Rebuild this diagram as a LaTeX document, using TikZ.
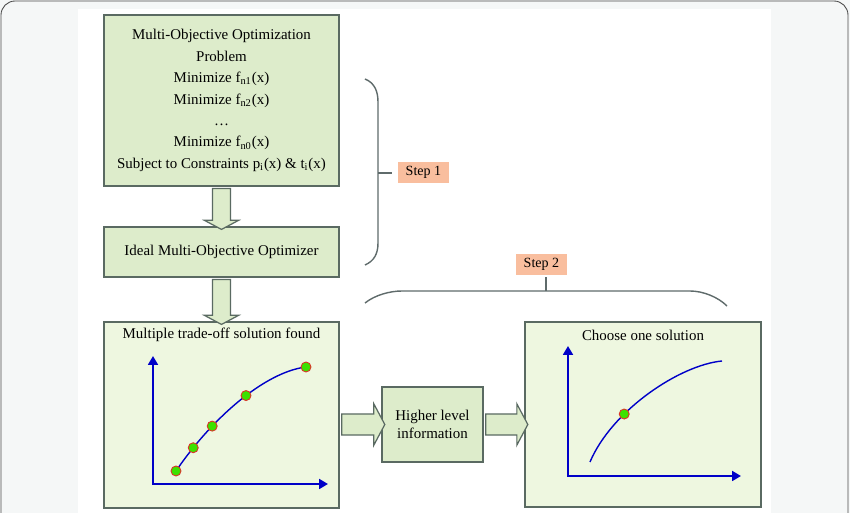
\documentclass[tikz,border=0pt]{standalone}
\usepackage{fontspec}
\setmainfont{Liberation Serif}
\usepackage{tikz}
\usetikzlibrary{shapes.arrows,arrows.meta,calc}
\definecolor{framebg}{RGB}{245,247,247}
\definecolor{boxgreen}{RGB}{221,236,203}
\definecolor{plotgreen}{RGB}{238,247,224}
\definecolor{boxline}{RGB}{90,106,98}
\definecolor{stepfill}{RGB}{249,190,158}
\definecolor{bracegray}{RGB}{95,107,107}
\definecolor{axisblue}{RGB}{0,0,200}
\definecolor{dotgreen}{RGB}{60,225,0}
\definecolor{dotred}{RGB}{220,50,40}

\begin{document}
\begin{tikzpicture}[x=0.02cm,y=-0.02cm,
        every node/.style={font=\fontsize{8.5}{12.2}\selectfont},
        box/.style={draw=boxline, line width=0.8pt, fill=boxgreen, align=center, inner sep=0pt},
        plotbox/.style={box, fill=plotgreen},
        fatarrow/.style={single arrow, draw=boxline, line width=0.7pt, fill=boxgreen,
            single arrow tip angle=124},
        steplabel/.style={fill=stepfill, inner sep=0pt, minimum width=1.02cm, minimum height=0.42cm,
            font=\fontsize{8}{10}\selectfont},
        bracepath/.style={draw=bracegray, line width=0.8pt},
        axis/.style={axisblue, line width=1.7pt, -{Triangle[length=5pt,width=5.5pt]}},
        curve/.style={axisblue, line width=0.8pt},
        dot/.style={fill=dotgreen, draw=dotred, line width=0.5pt}]
        \useasboundingbox (0,0) rectangle (850,513);
        % frame and white page
        \fill[framebg] (0,0) rectangle (850,513);
        \draw[black!70, line width=0.5pt, rounded corners=8] (1,530) -- (1,1) -- (848,1) -- (848,530);
        \fill[white] (78,9) rectangle (771,513);

        % boxes
        \node[box, minimum width=4.7cm, minimum height=3.42cm] (prob) at (221.5,100.5)
            {Multi-Objective Optimization\\ Problem\\ Minimize f\textsubscript{n1}(x)\\
             Minimize f\textsubscript{n2}(x)\\ \ldots\\ Minimize f\textsubscript{n0}(x)\\
             Subject to Constraints p\textsubscript{i}(x) \& t\textsubscript{i}(x)};
        \node[box, minimum width=4.7cm, minimum height=1.0cm] (ideal) at (221.5,252)
            {Ideal Multi-Objective Optimizer};
        \node[plotbox, minimum width=4.7cm, minimum height=3.72cm] (trade) at (221.5,415) {};
        \node[box, minimum width=2.02cm, minimum height=1.5cm, font=\fontsize{8.5}{10.4}\selectfont]
            (info) at (432.5,424.5) {Higher level\\ information};
        \node[plotbox, minimum width=4.72cm, minimum height=3.7cm] (choose) at (643,414.5) {};
        \node (tradetitle) at (221.5,335) {Multiple trade-off solution found};
        \node (choosetitle) at (643,335) {Choose one solution};

        % block arrows
        \node[fatarrow, shape border rotate=270, inner sep=0.17cm, minimum height=0.82cm,
            single arrow head extend=0.16cm] (a1) at ($(prob.south)!0.5!(ideal.north)$) {};
        \node[fatarrow, shape border rotate=270, inner sep=0.17cm, minimum height=0.9cm,
            single arrow head extend=0.16cm] (a2) at ($(ideal.south)!0.5!(trade.north)$) {};
        \node[fatarrow, inner sep=0.2cm, minimum height=0.86cm,
            single arrow head extend=0.2cm] (a3) at ($(trade.east|-info.west)!0.5!(info.west)$) {};
        \node[fatarrow, inner sep=0.2cm, minimum height=0.84cm,
            single arrow head extend=0.2cm] (a4) at ($(info.east)!0.5!(choose.west|-info.east)$) {};

        % step 1 brace
        \draw[bracepath] (365,79) .. controls (375,83) and (378,92) .. (378,102) -- (378,243)
            .. controls (378,254) and (374,261) .. (365,265);
        \draw[bracepath] (378,173) -- (392,173);
        \node[steplabel] (step1) at (423.5,172.5) {Step 1};
        % step 2 brace
        \draw[bracepath] (365,303) .. controls (375,295) and (390,291) .. (402,291) -- (690,291)
            .. controls (703,291) and (718,297) .. (727,306);
        \draw[bracepath] (546,291) -- (546,277);
        \node[steplabel] (step2) at (541.5,264.5) {Step 2};

        % trade-off plot
        \draw[axis] (153,485) -- (153,356);
        \draw[axis] (152,484) -- (328,484);
        \draw[curve] (176,471) .. controls (212,418) and (265,372) ..
            coordinate[pos=0] (s1) coordinate[pos=0.15] (s2) coordinate[pos=0.3] (s3)
            coordinate[pos=0.55] (s4) coordinate[pos=1] (s5) (306,367);
        \foreach \s in {s1,s2,s3,s4,s5}{
            \filldraw[dot] (\s) circle (0.1cm);
        }

        % chosen solution plot
        \draw[axis] (568,477) -- (568,346);
        \draw[axis] (567,476) -- (741,476);
        \draw[curve] (590,462) .. controls (612,410) and (680,365) .. coordinate[pos=0.33] (pick) (722,361);
        \filldraw[dot] (pick) circle (0.1cm);
    \end{tikzpicture}
\end{document}
